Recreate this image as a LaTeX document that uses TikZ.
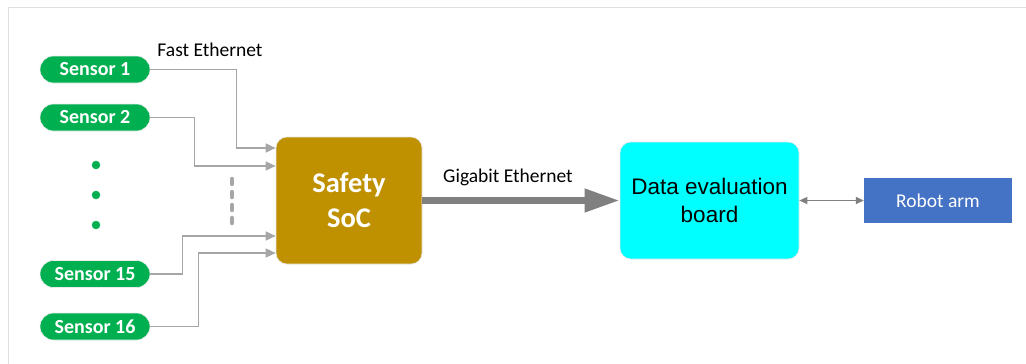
\documentclass[tikz,border=0pt]{standalone}
\usepackage{fontspec}
\usepackage{tikz}
\usetikzlibrary{arrows.meta}
\setmainfont{Carlito}
\newfontfamily\arialfont{Liberation Sans}

\definecolor{sensorgreen}{HTML}{00B050}
\definecolor{socgold}{HTML}{BF9000}
\definecolor{boardcyan}{HTML}{00FFFF}
\definecolor{armblue}{HTML}{4472C4}
\definecolor{wiregray}{HTML}{A6A6A6}
\definecolor{busgray}{HTML}{808080}

\begin{document}
\begin{tikzpicture}[x=1pt, y=-1pt,
    sensor/.style = {fill=sensorgreen, draw=white!85!gray, line width=0.6pt,
        rounded corners=13.5pt, minimum width=110pt, minimum height=27pt,
        text=white, font=\fontsize{20}{22}\selectfont\bfseries, inner sep=0pt},
    feed/.style = {draw=wiregray, line width=1.4pt,
        -{Triangle[length=10pt,width=9pt]}},
    bus/.style = {draw=busgray, line width=7pt,
        -{Triangle[length=35pt,width=22pt]}},
    link/.style = {draw=busgray, line width=1.4pt,
        {Triangle[length=8pt,width=7pt]}-{Triangle[length=8pt,width=7pt]}},
    tag/.style = {font=\fontsize{19.5}{22}\selectfont, inner sep=0pt}]
            \useasboundingbox (0,0) rectangle (1026,364);
            %\draw (0,0) rectangle (1026,364);
            \draw[gray!25, line width=1pt] (8,364) -- (8,7) -- (1026,7);

            \node[sensor] (s1) at (95,69.5) {Sensor 1};
            \node[sensor] (s2) at (95,117.5) {Sensor 2};
            \node[sensor] (s15) at (95,274) {Sensor 15};
            \node[sensor] (s16) at (95,326.5) {Sensor 16};
            \foreach \y in {165,195,225}
                \filldraw[sensorgreen] (96,\y) circle (4pt);

            \node[fill=socgold, draw=white!80!gray, line width=0.6pt,
                rounded corners=11pt, minimum width=146pt, minimum height=127pt,
                text=white, align=center,
                font=\fontsize{28.5}{35}\selectfont\bfseries] (soc) at (349,200.5) {Safety\\SoC};
            \node[fill=boardcyan, draw=white!80!gray, line width=0.6pt,
                rounded corners=11pt, minimum width=179pt, minimum height=117pt,
                align=center, font=\arialfont\fontsize{22.5}{28}\selectfont] (board) at (709.5,200.5) {Data evaluation\\board};
            \node[fill=armblue, minimum width=148pt, minimum height=45pt,
                text=white, font=\fontsize{19.5}{22}\selectfont] (arm) at (938,200.5) {Robot arm};

            \node[tag] (fast) at (210,50) {Fast Ethernet};
            \node[tag] (giga) at (508,177) {Gigabit Ethernet};

            \draw[feed] (s1.east) -- ++(86,0) |- ([yshift=52.5pt]soc.west);
            \draw[feed] (s2.east) -- ++(44,0) |- ([yshift=34.5pt]soc.west);
            \draw[feed] (s15.east) -- ++(32,0) |- ([yshift=-35.5pt]soc.west);
            \draw[feed] (s16.east) -- ++(48,0) |- ([yshift=-52.5pt]soc.west);
            \draw[wiregray, line width=4.5pt, line cap=round,
                dash pattern=on 5pt off 8pt] (232,179) -- (232,228);

            \draw[bus] (soc.east) -- (board.west);
            \draw[link] (board.east) -- (arm.west);
            \end{tikzpicture}
\end{document}
